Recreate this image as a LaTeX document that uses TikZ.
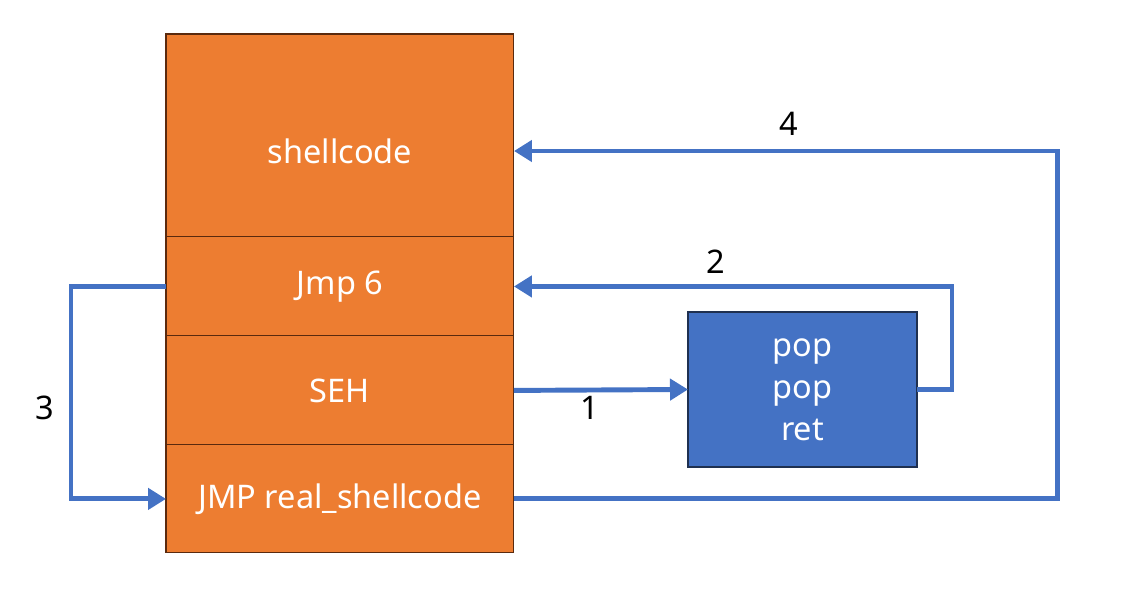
\documentclass[tikz,border=0pt]{standalone}
\usepackage{fontspec}
\setmainfont{Noto Sans}
\usepackage{tikz}
\usetikzlibrary{arrows.meta,positioning}
\definecolor{stackorange}{HTML}{ED7D31}
\definecolor{stackedge}{HTML}{5A2A0E}
\definecolor{popblue}{HTML}{4472C4}
\definecolor{popedge}{HTML}{1F3050}
\tikzset{
  cell/.style={draw=stackedge, fill=stackorange, line width=0.6pt, minimum width=6.96cm, text=white, font=\fontsize{18.5}{22}\selectfont, inner sep=0pt, outer sep=0pt},
  popbox/.style={draw=popedge, fill=popblue, line width=0.8pt, minimum width=4.58cm, minimum height=3.1cm, text=white, align=center, font=\fontsize{18.5}{24}\selectfont, inner sep=0pt, outer sep=0pt},
  flow/.style={draw=popblue, line width=2.8pt, -{Triangle[length=0.36cm,width=0.42cm]}},
  num/.style={font=\fontsize{18.5}{22}\selectfont}
}
\begin{document}
\begin{tikzpicture}[x=0.02cm,y=-0.02cm]
\useasboundingbox (0,0) rectangle (1134,599);

\node[cell, minimum height=4.06cm, text height=1.14cm, text depth=0pt, anchor=north west](shell) at (166,34) {shellcode};
\node[cell, minimum height=1.98cm, below=0pt of shell](jmp6) {Jmp 6};
\node[cell, minimum height=2.18cm, below=0pt of jmp6](seh) {SEH};
\node[cell, minimum height=2.16cm, below=0pt of seh](jmpreal) {JMP real\_shellcode};

\node[popbox, anchor=north west](pop) at (688,312) {pop\\pop\\ret};

\coordinate(shellin) at (514,151);

\draw[flow] (seh.east) -- (pop.west);
\draw[flow] (pop.east) -- ++(35,0) |- (jmp6.east);
\draw[flow] (jmp6.west) -- ++(-95,0) |- (jmpreal.west);
\draw[flow] (jmpreal.east) -- ++(544,0) |- (shellin);

\node[num](n1) at (590,408) {1};
\node[num](n2) at (716,262) {2};
\node[num](n3) at (45,408) {3};
\node[num](n4) at (789,124) {4};
\end{tikzpicture}
\end{document}
